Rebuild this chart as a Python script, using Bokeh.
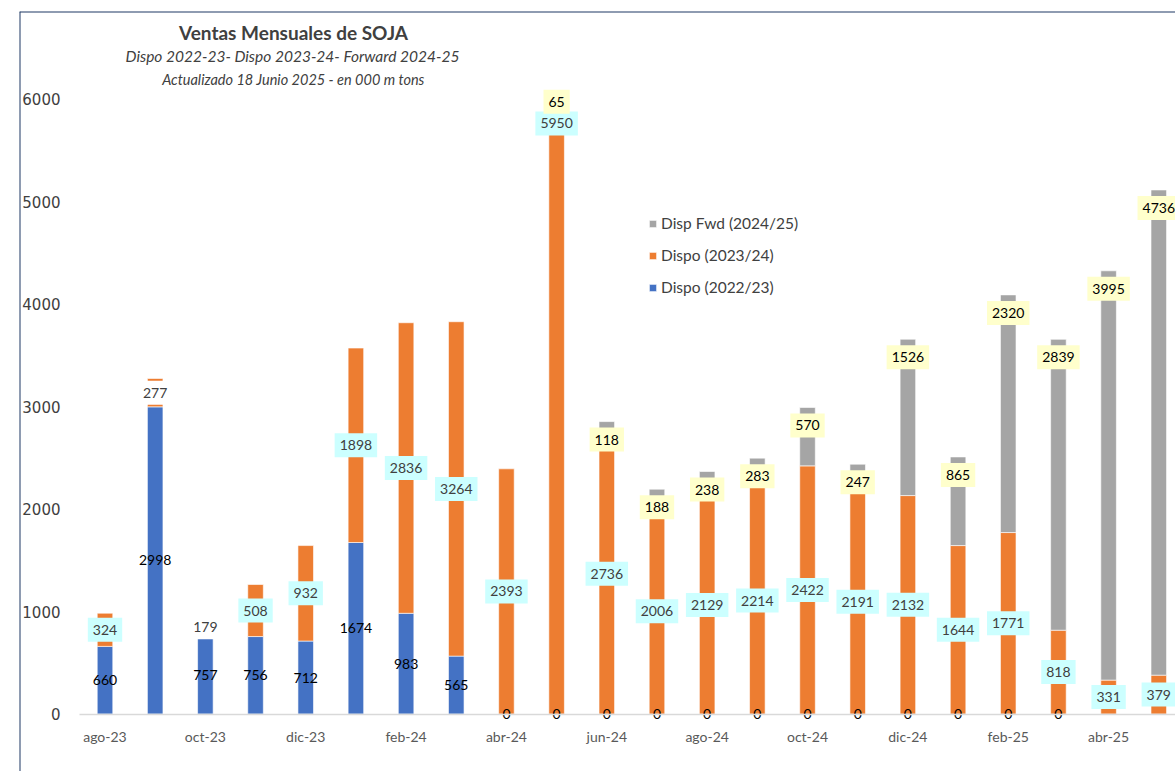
import numpy as np
from bokeh.plotting import figure
from bokeh.models import (Range1d, LinearAxis, FixedTicker, Span, Label, Legend,
                          LegendItem, ColumnDataSource)
from bokeh.core.properties import value
from bokeh.embed import file_html
from bokeh.resources import INLINE

# ---------------- data ----------------
months = ["ago-23", "sep-23", "oct-23", "nov-23", "dic-23", "ene-24", "feb-24", "mar-24",
          "abr-24", "may-24", "jun-24", "jul-24", "ago-24", "sep-24", "oct-24", "nov-24",
          "dic-24", "ene-25", "feb-25", "mar-25", "abr-25", "may-25"]
dispo_2223 = [660, 2998, 757, 756, 712, 1674, 983, 565, 0, 0, 0, 0, 0, 0, 0, 0, 0, 0, 0, 0,
              None, None]
dispo_2324 = [324, 277, 179, 508, 932, 1898, 2836, 3264, 2393, 5950, 2736, 2006, 2129, 2214,
              2422, 2191, 2132, 1644, 1771, 818, 331, 379]
fwd_2425 = [None, None, None, None, None, None, None, None, None, 65, 118, 188, 238, 283, 570,
            247, 1526, 865, 2320, 2839, 3995, 4736]
series_names = ["Disp Fwd (2024/25)", "Dispo (2023/24)", "Dispo (2022/23)"]
y_ticks = [0, 1000, 2000, 3000, 4000, 5000, 6000]

# ---------------- styles ----------------
BLUE, ORANGE, GREY = "#4472C4", "#ED7D31", "#A5A5A5"
CYAN_BOX, YELLOW_BOX = "#CCFFFF", "#FFFFCC"
TXT = "#404040"
FONT = "Lato"

n = len(months)
x = np.arange(n, dtype=float)
def arr(v):
    return np.array([np.nan if a is None else a for a in v], dtype=float)
b = arr(dispo_2223)
o = arr(dispo_2324)
g = arr(fwd_2425)
b0, o0, g0 = np.nan_to_num(b), np.nan_to_num(o), np.nan_to_num(g)

# scale geometry
FRAME_L, FRAME_T = 19, 11
px_per_cat = 50.18
x_start = -(104.5 - FRAME_L) / px_per_cat
x_end = x_start + (1175 - FRAME_L) / px_per_cat
py = 0.10245
y_end = (713.5 - FRAME_T) / py
y_start = -(771 - 713.5) / py

p = figure(width=1175, height=771, x_range=Range1d(x_start, x_end),
           y_range=Range1d(y_start, y_end), x_axis_location=None, y_axis_location=None,
           toolbar_location=None, output_backend="svg",
           min_border_left=FRAME_L, min_border_right=0, min_border_top=FRAME_T,
           min_border_bottom=0)
p.outline_line_color = None
p.grid.visible = False
p.background_fill_color = "white"
p.border_fill_color = "white"

W = 0.31
mb = ~np.isnan(b)
rb = p.vbar(x=x[mb], bottom=0, top=b0[mb], width=W, fill_color=BLUE,
            line_color="white", line_alpha=0.6, line_width=1)
ro = p.vbar(x=x, bottom=b0, top=b0 + o0, width=W, fill_color=ORANGE,
            line_color="white", line_alpha=0.6, line_width=1)
mg = ~np.isnan(g)
rg = p.vbar(x=x[mg], bottom=(b0 + o0)[mg], top=(b0 + o0 + g0)[mg], width=W, fill_color=GREY,
            line_color="white", line_alpha=0.6, line_width=1)

PAD = (5, 7)  # (horizontal, vertical)

# blue labels: centre of segment, no box
src_b = ColumnDataSource(dict(x=x[mb], y=b0[mb] / 2, t=[str(int(v)) for v in b[mb]]))
p.text(x="x", y="y", text="t", source=src_b, text_align="center", text_baseline="middle",
       text_font=value(FONT), text_font_size="14px", text_color="black")

# orange labels: centre of segment, cyan box (some white), the tall one at inside end
oy, ooff, obg = [], [], []
for i in range(n):
    if months[i] == "may-24":
        oy.append(b0[i] + o0[i]); ooff.append(19)
    else:
        oy.append(b0[i] + o0[i] / 2); ooff.append(0)
    obg.append("white" if months[i] in ("sep-23", "oct-23") else CYAN_BOX)
src_o = ColumnDataSource(dict(x=x, y=oy, off=ooff, bg=obg, t=[str(int(v)) for v in o]))
p.text(x="x", y="y", text="t", y_offset="off", source=src_o, text_align="center",
       text_baseline="middle", text_font=value(FONT), text_font_size="14px", text_color=TXT,
       background_fill_color="bg", padding=PAD)

# grey labels: inside end, yellow box
gx = x[mg]
gy = (b0 + o0 + g0)[mg]
goff = [4 if months[int(i)] == "may-24" else 18 for i in gx]
src_g = ColumnDataSource(dict(x=gx, y=gy, off=goff, t=[str(int(v)) for v in g[mg]]))
p.text(x="x", y="y", text="t", y_offset="off", source=src_g, text_align="center",
       text_baseline="middle", text_font=value(FONT), text_font_size="14px", text_color="black",
       background_fill_color=YELLOW_BOX, padding=PAD)

# ---------------- axes ----------------
xaxis = LinearAxis(fixed_location=0, ticker=FixedTicker(ticks=list(range(0, n, 2))),
                   major_label_overrides={i: months[i] for i in range(0, n, 2)},
                   bounds=(-0.5, n - 0.5))
xaxis.axis_line_color = "#D9D9D9"
xaxis.axis_line_width = 1.5
xaxis.major_tick_line_color = None
xaxis.minor_tick_line_color = None
xaxis.major_label_standoff = 8
xaxis.major_label_text_font = FONT
xaxis.major_label_text_font_size = "14px"
xaxis.major_label_text_color = "#595959"
p.add_layout(xaxis, "below")

yaxis = LinearAxis(fixed_location=x_start + (66 - FRAME_L) / px_per_cat,
                   ticker=FixedTicker(ticks=y_ticks))
yaxis.axis_line_color = None
yaxis.major_tick_line_color = None
yaxis.minor_tick_line_color = None
yaxis.major_label_standoff = 0
yaxis.major_label_text_font = "DejaVu Sans"
yaxis.major_label_text_font_size = "15px"
yaxis.major_label_text_color = TXT
p.add_layout(yaxis, "left")

# ---------------- chart border (left & top) ----------------
p.add_layout(Span(location=x_start, dimension="height", line_color="#1F3864", line_width=2))
p.add_layout(Span(location=y_end, dimension="width", line_color="#1F3864", line_width=2))

# ---------------- titles ----------------
p.add_layout(Label(x=293 - FRAME_L, y=771 - 32, x_units="screen", y_units="screen",
                   text="Ventas Mensuales de SOJA", text_align="center", text_baseline="middle",
                   text_font=FONT, text_font_style="bold", text_font_size="19px",
                   text_color=TXT))
p.add_layout(Label(x=292 - FRAME_L, y=771 - 55, x_units="screen", y_units="screen",
                   text="Dispo 2022-23- Dispo 2023-24- Forward 2024-25", text_align="center",
                   text_baseline="middle", text_font=FONT, text_font_style="italic",
                   text_font_size="15.5px", text_color=TXT))
p.add_layout(Label(x=293 - FRAME_L, y=771 - 79, x_units="screen", y_units="screen",
                   text="Actualizado 18 Junio 2025 - en 000 m tons", text_align="center",
                   text_baseline="middle", text_font=FONT, text_font_style="italic",
                   text_font_size="14.5px", text_color=TXT))

# ---------------- legend ----------------
legend = Legend(items=[LegendItem(label=series_names[0], renderers=[rg]),
                       LegendItem(label=series_names[1], renderers=[ro]),
                       LegendItem(label=series_names[2], renderers=[rb])],
                location=(648 - FRAME_L, 771 - 296), orientation="vertical")
legend.border_line_color = None
legend.background_fill_alpha = 0
legend.glyph_width = 9
legend.glyph_height = 9
legend.label_standoff = 4
legend.label_height = 18
legend.spacing = 14
legend.padding = 0
legend.margin = 0
legend.label_text_font = FONT
legend.label_text_font_size = "15.5px"
legend.label_text_color = TXT
p.add_layout(legend)

open("out.html", "w").write(file_html(p, INLINE))
